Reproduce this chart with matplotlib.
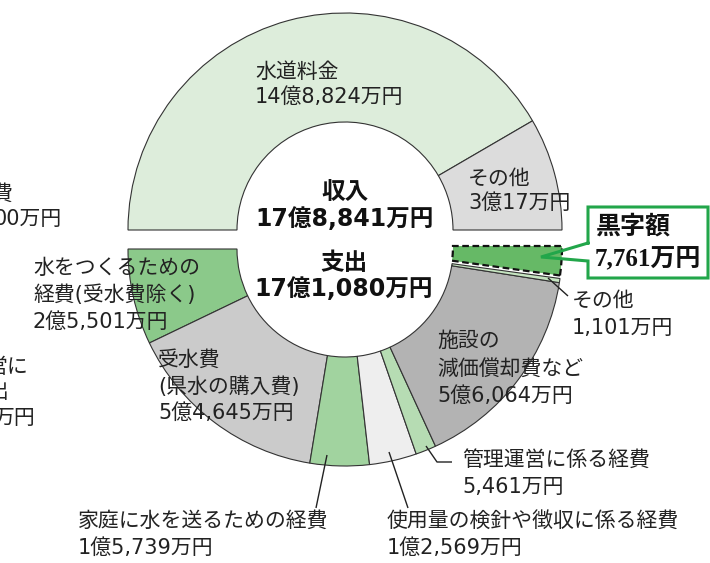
import matplotlib
matplotlib.use('Agg')
import matplotlib.pyplot as plt
from matplotlib.patches import Rectangle

# ---------------- data ----------------
income_labels = ['水道料金', 'その他']
income_values = [148824, 30017]
income_value_texts = ['14億8,824万円', '3億17万円']
income_total_text = '17億8,841万円'

expense_labels = ['水をつくるための\n経費(受水費除く)', '受水費\n(県水の購入費)',
                  '家庭に水を送るための経費', '使用量の検針や徴収に係る経費',
                  '管理運営に係る経費', '施設の\n減価償却費など', 'その他', '黒字額']
expense_values = [25501, 54645, 15739, 12569, 5461, 56064, 1101, 7761]
expense_value_texts = ['2億5,501万円', '5億4,645万円', '1億5,739万円', '1億2,569万円',
                       '5,461万円', '5億6,064万円', '1,101万円', '7,761万円']
expense_total_text = '17億1,080万円'

income_colors = ['#ddeddb', '#dcdcdc']
expense_colors = ['#8bc98a', '#cbcbcb', '#a1d39f', '#eeeeee', '#b6dcb3',
                  '#b3b3b3', '#c6e5c1', '#66b966']

# ---------------- figure ----------------
W, H = 710, 563
fig = plt.figure(figsize=(W / 100, H / 100), dpi=100)
ax = fig.add_axes([0, 0, 1, 1])

FAM = ['DejaVu Sans', 'Noto Sans CJK JP']
SERIF = ['Liberation Serif', 'Noto Sans CJK JP']
TXT = '#222222'
EDGE = '#333333'


def Y(y):
    return H - y


cx = 345
R, r = 217, 108
cy_top, cy_bot = 230, 249

# income half (top)
w_top, _ = ax.pie(income_values + [sum(income_values)], startangle=180, counterclock=False,
                  radius=R, center=(cx, Y(cy_top)), colors=income_colors + ['none'],
                  wedgeprops=dict(width=R - r, edgecolor=EDGE, linewidth=0.8), frame=True)
w_top[-1].set_visible(False)

# expense half (bottom)
w_bot, _ = ax.pie(expense_values + [sum(expense_values)], startangle=180, counterclock=True,
                  radius=R, center=(cx, Y(cy_bot)), colors=expense_colors + ['none'],
                  wedgeprops=dict(width=R - r, edgecolor=EDGE, linewidth=0.8), frame=True)
w_bot[-1].set_visible(False)
surplus = w_bot[-2]
surplus.set_center((cx, Y(cy_bot - 3)))
surplus.set_edgecolor('#111111')
surplus.set_linewidth(1.6)
surplus.set_linestyle((0, (3, 1.6)))
surplus.set_zorder(5)

ax.set_xlim(0, W)
ax.set_ylim(0, H)
ax.set_aspect('equal')
ax.axis('off')


def lines(x, ys, texts, size=15, **kw):
    for yy, t in zip(ys, texts):
        ax.text(x, Y(yy), t, fontsize=size, family=FAM, color=TXT, va='center', ha='left',
                zorder=7, **kw)


# income labels
lines(255, [72, 97], [income_labels[0], income_value_texts[0]])
lines(468, [179, 203], [income_labels[1], income_value_texts[1]])

# centre texts
ax.text(cx, Y(192), '収入', fontsize=17, fontweight='bold', family=FAM, ha='center', va='center', color='#111')
ax.text(cx, Y(219), income_total_text, fontsize=17, fontweight='bold', family=FAM, ha='center', va='center', color='#111')
ax.text(cx - 1, Y(263), '支出', fontsize=17, fontweight='bold', family=FAM, ha='center', va='center', color='#111')
ax.text(cx - 1, Y(289), expense_total_text, fontsize=17, fontweight='bold', family=FAM, ha='center', va='center', color='#111')

# expense labels
l0 = expense_labels[0].split('\n')
lines(33, [268, 295, 322], l0 + [expense_value_texts[0]])
l1 = expense_labels[1].split('\n')
lines(158, [360, 387, 413], l1 + [expense_value_texts[1]])
lines(78, [521, 548], [expense_labels[2], expense_value_texts[2]])
lines(387, [521, 548], [expense_labels[3], expense_value_texts[3]])
lines(462, [460, 487], [expense_labels[4], expense_value_texts[4]])
l5 = expense_labels[5].split('\n')
lines(437, [341, 369, 396], l5 + [expense_value_texts[5]])
lines(572, [301, 328], [expense_labels[6], expense_value_texts[6]])

# leader lines
def leader(pts):
    ax.plot([p[0] for p in pts], [Y(p[1]) for p in pts], color='#222', lw=1.0, zorder=6,
            solid_capstyle='butt')


leader([(327, 455), (316, 508)])
leader([(389, 452), (408, 508)])
leader([(426, 446), (437, 462), (452, 462)])
leader([(548, 278), (568, 296)])

# surplus call-out box
GREEN = '#22a64a'
ax.add_patch(Rectangle((588, Y(278)), 120, 71, facecolor='white', edgecolor='none', zorder=6))
bx = [588, 588, 708, 708, 588, 588, 541, 588]
by = [243, 207, 207, 278, 278, 261, 257, 243]
ax.plot(bx, [Y(v) for v in by], color=GREEN, lw=2.2, zorder=7, solid_joinstyle='miter')
ax.text(596, Y(227), expense_labels[7], fontsize=18, fontweight='bold', family=SERIF,
        ha='left', va='center', color='#111', zorder=8)
ax.text(595, Y(259), expense_value_texts[7], fontsize=18, fontweight='bold', family=SERIF,
        ha='left', va='center', color='#111', zorder=8)

# fragments of neighbouring labels cut by the left image edge
for xx, yy, t in [(13, 194, '費'), (62, 219, '00万円'), (28, 367, '営に'),
                  (9, 392, '出'), (35, 418, '万円')]:
    ax.text(xx, Y(yy), t, fontsize=15, family=FAM, color=TXT, ha='right', va='center')

fig.savefig('out.png', dpi=100)
